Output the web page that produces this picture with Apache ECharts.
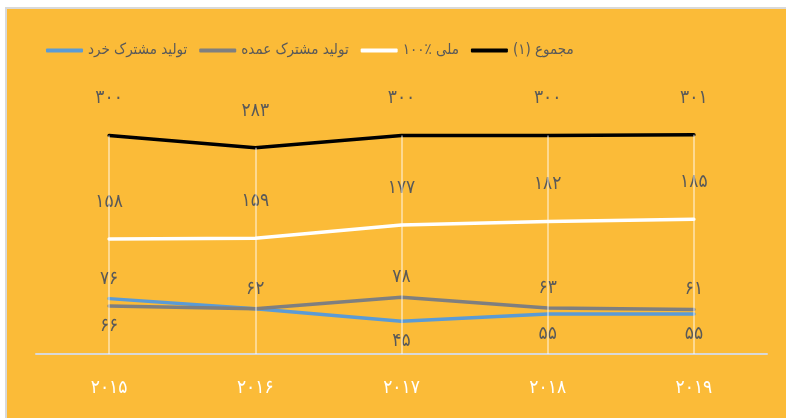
<!DOCTYPE html>
<html>
<head>
<meta charset="utf-8">
<script src="https://cdn.jsdelivr.net/npm/echarts@6/dist/echarts.min.js"></script>
<style>
  html, body { margin: 0; padding: 0; background: #fff; }
  #wrap { position: relative; width: 786px; height: 418px; overflow: hidden; }
  #chart {
    position: absolute; left: 5px; top: 7px; width: 781px; height: 411px;
    border-left: 2px solid #d9d9d9; border-top: 2px solid #d9d9d9;
  }
</style>
</head>
<body>
<div id="wrap"><div id="chart"></div></div>
<script>
// سال‌ها
var years = ['۲۰۱۵', '۲۰۱۶', '۲۰۱۷', '۲۰۱۸', '۲۰۱۹'];
// مقادیر
var khord = [76, 62, 45, 55, 55];      // تولید مشترک خرد
var omdeh = [66, 62, 78, 63, 61];      // تولید مشترک عمده
var melli = [158, 159, 177, 182, 185]; // ۱۰۰٪ ملی
var total = [300, 283, 300, 300, 301]; // مجموع (۱)

var names = ['تولید مشترک خرد', 'تولید مشترک عمده', '۱۰۰٪ ملی', 'مجموع (۱)'];

var FONT = 'DejaVu Sans Condensed, DejaVu Sans';
var labelColor = '#595959';

function fa(n) {
  return String(n).replace(/[0-9]/g, function (d) { return '۰۱۲۳۴۵۶۷۸۹'[d]; });
}

// labels of the two small series: higher one on top, lower one below
function smallData(mine, other, isGray) {
  return mine.map(function (v, i) {
    var pos, show = true;
    if (v > other[i]) pos = 'top';
    else if (v < other[i]) pos = 'bottom';
    else { pos = 'top'; show = isGray; }
    return { value: v, label: { show: show, position: pos } };
  });
}

var myChart = echarts.init(document.getElementById('chart'));

var lbl = {
  show: true,
  color: labelColor,
  fontFamily: FONT,
  fontSize: 19,
  distance: 10,
  formatter: function (p) { return fa(p.value); }
};

function lineSeries(name, data, color, label) {
  return {
    name: name,
    type: 'line',
    data: data,
    symbol: 'circle',
    symbolSize: 1,
    showSymbol: true,
    lineStyle: { color: color, width: 3.5, cap: 'round' },
    itemStyle: { color: color },
    label: label,
    emphasis: { disabled: true }
  };
}

var blue = lineSeries(names[0], smallData(khord, omdeh, false), '#5B9BD5', lbl);
blue.markLine = {
  silent: true,
  symbol: 'none',
  label: { show: false },
  lineStyle: { color: 'rgba(255,255,255,0.45)', width: 2, type: 'solid' },
  data: total.map(function (v, i) {
    return [{ coord: [i, v] }, { coord: [i, 0] }];
  })
};

var option = {
  backgroundColor: '#FBBB38',
  animation: false,
  textStyle: { fontFamily: FONT },
  legend: {
    left: 34,
    top: 29,
    itemWidth: 37,
    itemHeight: 4,
    itemGap: 12,
    icon: 'roundRect',
    textStyle: { color: labelColor, fontSize: 15, fontFamily: FONT },
    data: names
  },
  grid: { left: 29, right: 21, top: 90, bottom: 66 },
  xAxis: {
    type: 'category',
    data: years,
    boundaryGap: true,
    axisLine: { lineStyle: { color: '#d9d9d9', width: 2 } },
    axisTick: { show: false },
    axisLabel: { color: '#ffffff', fontSize: 19, margin: 25, fontFamily: FONT }
  },
  yAxis: {
    type: 'value',
    min: 0,
    max: 350,
    show: false,
    splitLine: { show: false }
  },
  series: [
    blue,
    lineSeries(names[1], smallData(omdeh, khord, true), '#7F7F7F', lbl),
    lineSeries(names[2], melli, '#ffffff', Object.assign({}, lbl, { position: 'top', distance: 27 })),
    lineSeries(names[3], total, '#000000', Object.assign({}, lbl, { position: 'top', distance: 27 }))
  ]
};

myChart.setOption(option);
</script>
</body>
</html>
